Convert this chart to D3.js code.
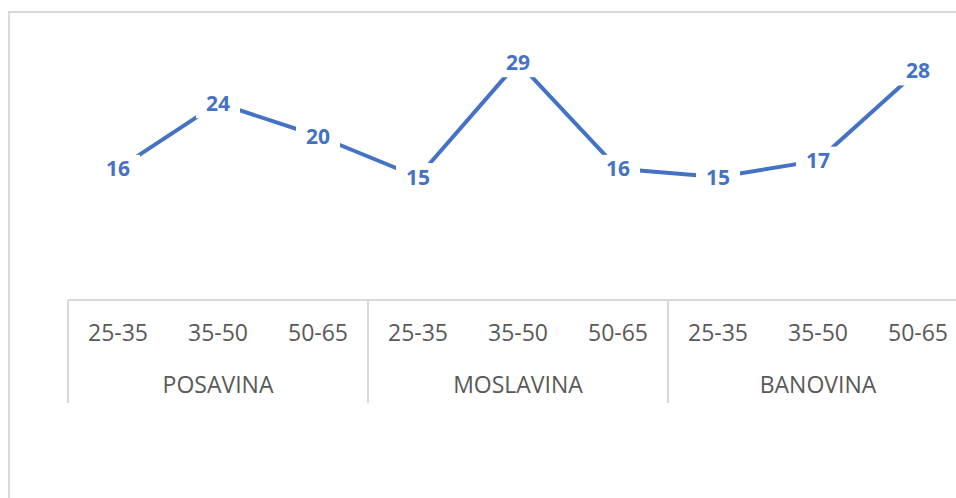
<!DOCTYPE html>
<html>
<head>
<meta charset="utf-8">
<script src="https://cdn.jsdelivr.net/npm/d3@7"></script>
<style>
  html, body { margin: 0; padding: 0; background: #ffffff; }
  svg { display: block; }
</style>
</head>
<body>
<svg id="chart" width="956" height="498"></svg>
<script>
const regions = ["POSAVINA", "MOSLAVINA", "BANOVINA"];
const ageGroups = ["25-35", "35-50", "50-65"];
const values = [16, 24, 20, 15, 29, 16, 15, 17, 28];

const categories = [];
regions.forEach(r => ageGroups.forEach(a => categories.push({ region: r, age: a })));
const data = categories.map((c, i) => ({ ...c, key: c.region + "|" + c.age, value: values[i] }));

const svg = d3.select("#chart");
const W = 956, H = 498;

// outer chart border (extends past the visible area)
svg.append("rect")
  .attr("x", 9).attr("y", 12)
  .attr("width", 1200).attr("height", 1200)
  .attr("fill", "#ffffff")
  .attr("stroke", "#d9d9d9").attr("stroke-width", 2);

const plotLeft = 68, plotRight = 968, axisY = 300, plotTop = 13;

const x = d3.scaleBand().domain(data.map(d => d.key)).range([plotLeft, plotRight]).padding(0);
const xg = d3.scaleBand().domain(regions).range([plotLeft, plotRight]).padding(0);
const y = d3.scaleLinear().domain([0, 35]).range([axisY, plotTop]);

const axisColor = "#d9d9d9";
const textColor = "#595959";
const font = "'Open Sans', 'Noto Sans', sans-serif";

// horizontal axis line
svg.append("line")
  .attr("x1", plotLeft).attr("x2", plotRight)
  .attr("y1", axisY).attr("y2", axisY)
  .attr("stroke", axisColor).attr("stroke-width", 2);

// group separators (multi-level axis)
const sepX = regions.map(r => xg(r)).concat([xg(regions[regions.length - 1]) + xg.bandwidth()]);
svg.selectAll("line.sep").data(sepX).enter().append("line")
  .attr("class", "sep")
  .attr("x1", d => d).attr("x2", d => d)
  .attr("y1", axisY).attr("y2", 403)
  .attr("stroke", axisColor).attr("stroke-width", 2);

// category tick labels
svg.selectAll("text.cat").data(data).enter().append("text")
  .attr("class", "cat")
  .attr("x", d => x(d.key) + x.bandwidth() / 2)
  .attr("y", 341)
  .attr("text-anchor", "middle")
  .attr("fill", textColor)
  .style("font-family", font)
  .style("font-size", "23px")
  .text(d => d.age);

// group labels
svg.selectAll("text.grp").data(regions).enter().append("text")
  .attr("class", "grp")
  .attr("x", d => xg(d) + xg.bandwidth() / 2)
  .attr("y", 393)
  .attr("text-anchor", "middle")
  .attr("fill", textColor)
  .style("font-family", font)
  .style("font-size", "23px")
  .text(d => d);

// series line
const line = d3.line()
  .x(d => x(d.key) + x.bandwidth() / 2)
  .y(d => y(d.value));

svg.append("path")
  .datum(data)
  .attr("d", line)
  .attr("fill", "none")
  .attr("stroke", "#4472c4")
  .attr("stroke-width", 4)
  .attr("stroke-linejoin", "round");

// data labels with white background boxes (centered on points)
const lbl = svg.selectAll("g.lbl").data(data).enter().append("g")
  .attr("class", "lbl")
  .attr("transform", d => `translate(${x(d.key) + x.bandwidth() / 2},${y(d.value)})`);

lbl.append("rect")
  .attr("x", -22).attr("y", -14)
  .attr("width", 44).attr("height", 29)
  .attr("fill", "#ffffff");

lbl.append("text")
  .attr("x", 0).attr("y", 7.5)
  .attr("text-anchor", "middle")
  .attr("fill", "#4472c4")
  .style("font-family", font)
  .style("font-size", "21px")
  .style("font-weight", "bold")
  .text(d => d.value);
</script>
</body>
</html>
